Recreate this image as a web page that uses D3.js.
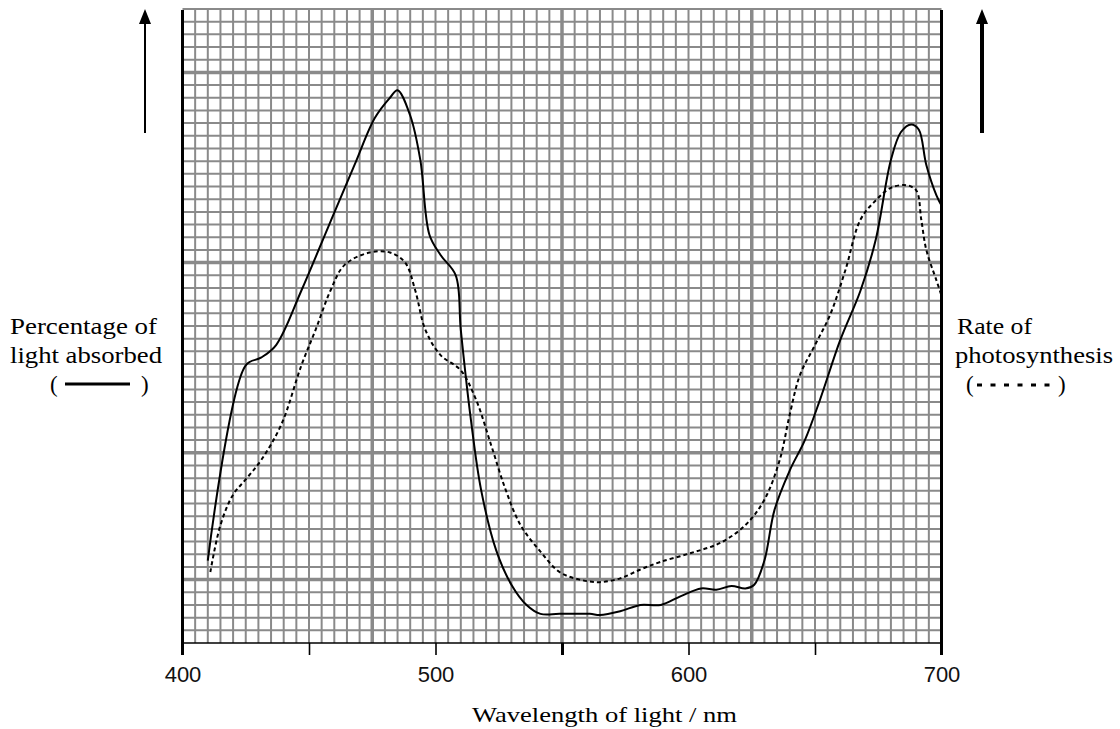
<!DOCTYPE html>
<html>
<head>
<meta charset="utf-8">
<script src="https://cdn.jsdelivr.net/npm/d3@7"></script>
<style>
  html, body { margin: 0; padding: 0; background: #fff; }
  svg { display: block; }
</style>
</head>
<body>
<svg id="chart" width="1120" height="729"></svg>
<script>
// ---- data (y in grid-square units, 0..50) ----
const absWavelength = [410, 425, 431, 437, 447, 458, 468, 476, 482, 485, 490, 494, 497.6, 502, 508, 510, 514, 518, 524, 530, 536, 541.5, 549, 561, 565, 573, 581, 589, 597, 605, 611, 617, 622.5, 626, 630, 634, 640, 646, 652, 660, 668, 674, 680, 684, 688, 691, 694, 698, 700];
const absorbed = [6.5, 21.9, 22.5, 23.5, 27.8, 33.0, 37.7, 41.4, 43.0, 43.6, 41.6, 38.1, 32.2, 30.6, 29.0, 24.7, 17.6, 12.1, 7.3, 4.6, 3.0, 2.3, 2.3, 2.3, 2.2, 2.5, 3.0, 3.0, 3.7, 4.3, 4.2, 4.5, 4.3, 4.6, 6.5, 10.5, 13.6, 16.0, 19.2, 23.9, 27.8, 31.8, 38.1, 40.3, 40.9, 40.5, 37.7, 35.3, 34.5];

const photoWavelength = [411, 415, 420, 425, 431, 439, 447, 452.6, 458.5, 464, 474, 482, 488, 492, 496, 502, 510, 516, 522, 527.7, 533.6, 541.5, 549, 557, 565, 573, 581, 589, 601, 612.6, 622.5, 630, 636, 640, 644, 650, 656, 662, 668, 674, 680, 686, 690, 692, 694, 698, 700];
const photosynthesis = [5.6, 9.3, 11.7, 12.9, 14.4, 17.2, 21.9, 24.7, 27.8, 29.8, 30.8, 30.8, 30.0, 27.8, 24.7, 22.7, 21.5, 19.2, 15.6, 12.1, 9.3, 7.2, 5.6, 5.0, 4.8, 5.1, 5.8, 6.4, 7.1, 7.9, 9.3, 11.3, 14.4, 18.0, 21.1, 23.5, 25.9, 29.4, 33.4, 34.9, 35.9, 36.1, 35.7, 33.4, 31.0, 28.6, 27.4];

const tickValues = [400, 450, 500, 550, 600, 650, 700];
const tickLabels = ["400", "", "500", "", "600", "", "700"];
const boldX = [475, 550, 625];
const boldY = [5, 15, 30, 45];

const xLabel = "Wavelength of light / nm";
const leftLabel = ["Percentage of", "light absorbed"];
const rightLabel = ["Rate of", "photosynthesis"];

// ---- layout ----
const svg = d3.select("#chart");
const x = d3.scaleLinear().domain([400, 700]).range([182.5, 941.5]);
const y = d3.scaleLinear().domain([0, 50]).range([643, 9]);

const gridColor = "#8a8a8a";
const g = svg.append("g");

// fine grid
const xFine = d3.range(405, 700, 5);
const yFine = d3.range(1, 51, 1);
g.selectAll("line.vx").data(xFine).join("line")
  .attr("x1", d => x(d)).attr("x2", d => x(d))
  .attr("y1", y(50)).attr("y2", y(0))
  .attr("stroke", gridColor)
  .attr("stroke-width", d => boldX.includes(d) ? 3.5 : 2);
g.selectAll("line.hy").data(yFine).join("line")
  .attr("x1", x(400)).attr("x2", x(700))
  .attr("y1", d => y(d)).attr("y2", d => y(d))
  .attr("stroke", gridColor)
  .attr("stroke-width", d => boldY.includes(d) ? 3.5 : 2);

// axes
svg.append("line").attr("x1", x(400)).attr("x2", x(700)).attr("y1", y(0)).attr("y2", y(0))
  .attr("stroke", "#000").attr("stroke-width", 1.6);
svg.append("line").attr("x1", x(400)).attr("x2", x(400)).attr("y1", y(50) + 1).attr("y2", y(0) + 12)
  .attr("stroke", "#000").attr("stroke-width", 3);
svg.append("line").attr("x1", x(700)).attr("x2", x(700)).attr("y1", y(50) + 1).attr("y2", y(0) + 12)
  .attr("stroke", "#000").attr("stroke-width", 3);

// bottom ticks
const xAxis = d3.axisBottom(x).tickValues(tickValues).tickSize(12)
  .tickFormat((d, i) => tickLabels[i]);
const ax = svg.append("g").attr("transform", `translate(0,${y(0)})`).call(xAxis);
ax.select(".domain").remove();
ax.selectAll(".tick line").attr("stroke", "#000")
  .attr("stroke-width", d => (d === 550 ? 3 : 1.6))
  .attr("opacity", d => (d === 400 || d === 700) ? 0 : 1);
ax.selectAll(".tick text")
  .attr("y", 0).attr("dy", 0)
  .attr("transform", "translate(0,39)")
  .attr("font-family", "'Liberation Sans', Arial, sans-serif")
  .attr("font-size", 22).attr("fill", "#111")
  .attr("text-anchor", "middle");

// curves
const line = d3.line().x(d => x(d[0])).y(d => y(d[1])).curve(d3.curveCatmullRom.alpha(0.5));
svg.append("path").datum(absWavelength.map((w, i) => [w, absorbed[i]]))
  .attr("d", line).attr("fill", "none").attr("stroke", "#000").attr("stroke-width", 2);
svg.append("path").datum(photoWavelength.map((w, i) => [w, photosynthesis[i]]))
  .attr("d", line).attr("fill", "none").attr("stroke", "#000").attr("stroke-width", 2)
  .attr("stroke-dasharray", "4,3");

// texts
const serif = "Liberation Serif, DejaVu Serif, Times New Roman, serif";
function txt(s, px, py, len, size) {
  const t = svg.append("text").attr("x", px).attr("y", py)
    .style("font-family", serif).style("font-size", (size || 23) + "px").attr("fill", "#000").text(s);
  if (len) t.attr("textLength", len).attr("lengthAdjust", "spacingAndGlyphs");
  return t;
}
txt(leftLabel[0], 10, 334, 147);
txt(leftLabel[1], 10, 363, 152);
txt("(", 50, 392);
txt(")", 141, 392);
svg.append("line").attr("x1", 65).attr("x2", 130).attr("y1", 384).attr("y2", 384)
  .attr("stroke", "#000").attr("stroke-width", 3);

txt(rightLabel[0], 957, 334, 75);
txt(rightLabel[1], 955, 363, 158);
txt("(", 966, 392);
txt(")", 1058, 392);
svg.append("line").attr("x1", 977).attr("x2", 1050).attr("y1", 385).attr("y2", 385)
  .attr("stroke", "#000").attr("stroke-width", 3).attr("stroke-dasharray", "5,8.5");

txt(xLabel, 472, 722, 265, 22);

// arrows
function arrow(ax0, w) {
  svg.append("line").attr("x1", ax0).attr("x2", ax0).attr("y1", 133).attr("y2", 20)
    .attr("stroke", "#000").attr("stroke-width", w);
  svg.append("path").attr("d", `M${ax0},9 L${ax0 - 6},24 L${ax0 + 6},24 Z`).attr("fill", "#000");
}
arrow(145, 2);
arrow(982, 4);
</script>
</body>
</html>
